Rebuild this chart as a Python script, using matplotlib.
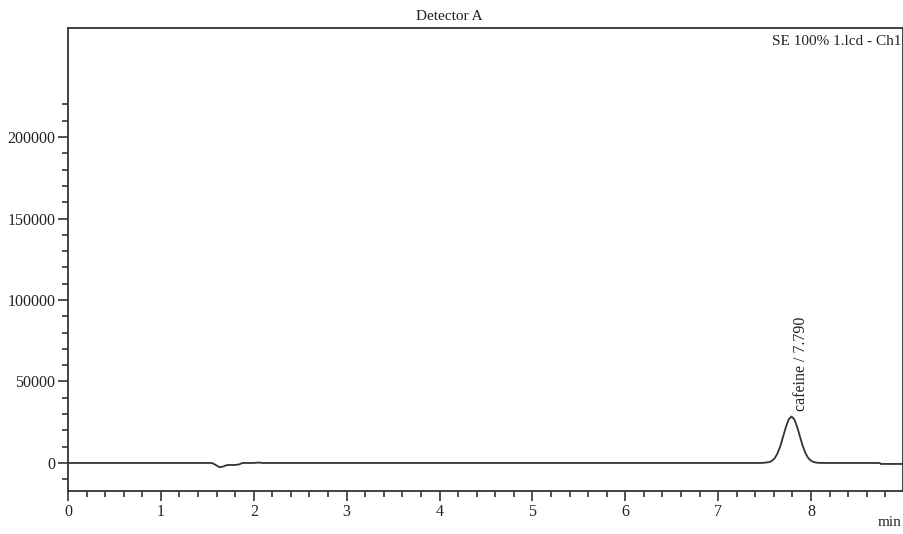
import matplotlib
matplotlib.use("Agg")
import matplotlib.pyplot as plt
from matplotlib.ticker import MultipleLocator, FixedLocator

# Chromatogram trace (time in min, signal)
time = [0.00, 1.00, 1.55, 1.59, 1.63, 1.67, 1.71, 1.80, 1.84, 1.88, 2.00, 2.05, 2.10,
        3.00, 5.00, 7.00, 7.45, 7.50, 7.55, 7.58, 7.61, 7.64, 7.67, 7.70, 7.73, 7.76,
        7.79, 7.82, 7.85, 7.88, 7.91, 7.94, 7.97, 8.00, 8.03, 8.06, 8.10, 8.15, 8.50,
        8.74, 8.75, 9.00]
signal = [0, 0, 0, -1200, -2600, -2200, -1300, -1200, -900, 0, 0, 250, 0,
          0, 0, 0, 0, 150, 550, 1350, 3000, 6000, 10500, 16300, 22200, 26800,
          28500, 26800, 22200, 16300, 10500, 6000, 3000, 1350, 550, 180, 50, 0, 0,
          0, -600, -600]

peak_name = "cafeine"
peak_time = 7.790
peak_label_y = 32000

x_major = [0, 1, 2, 3, 4, 5, 6, 7, 8]
y_major = [0, 50000, 100000, 150000, 200000]

title = "Detector A"
file_label = "SE 100% 1.lcd - Ch1"
x_unit = "min"

plt.rcParams['font.family'] = ['Liberation Serif', 'DejaVu Serif']
fig = plt.figure(figsize=(9.04, 5.34), dpi=100)
ax = fig.add_axes([68/904, 1 - 491/534, (903-68)/904, (491-28)/534])

dark = '#333333'
ax.plot(time, signal, color=dark, lw=1.3)

ax.set_xlim(0, 8.99)
ax.set_ylim(-17200, 266900)

ax.xaxis.set_major_locator(FixedLocator(x_major))
ax.xaxis.set_minor_locator(MultipleLocator(0.2))
ax.yaxis.set_major_locator(FixedLocator(y_major))
ax.yaxis.set_minor_locator(FixedLocator([v * 10000 for v in range(-1, 23)]))
ax.set_xticklabels([str(v) for v in x_major])
ax.set_yticklabels([str(v) for v in y_major])

ax.tick_params(axis='both', which='major', direction='out', length=7, width=1.2,
               color=dark, labelsize=11.5, labelcolor='#222222', pad=2)
ax.tick_params(axis='both', which='minor', direction='out', length=4, width=1.2, color=dark)
ax.tick_params(axis='x', which='both', top=False)
ax.tick_params(axis='y', which='both', right=False)

for s in ax.spines.values():
    s.set_color(dark)
    s.set_linewidth(1.3)

fig.text(449/904, 1 - 17/534, title, ha='center', va='center', fontsize=11, color='#222222')
ax.text(0.998, 0.985, file_label, transform=ax.transAxes, ha='right', va='top',
        fontsize=11, color='#222222')
fig.text(890/904, 1 - 522/534, x_unit, ha='center', va='center', fontsize=11, color='#222222')

ax.text(peak_time + 0.1, peak_label_y, f"{peak_name} / {peak_time:.3f}", rotation=90,
        ha='center', va='bottom', fontsize=11.5, color='#222222')

fig.savefig("out.png", dpi=100)
